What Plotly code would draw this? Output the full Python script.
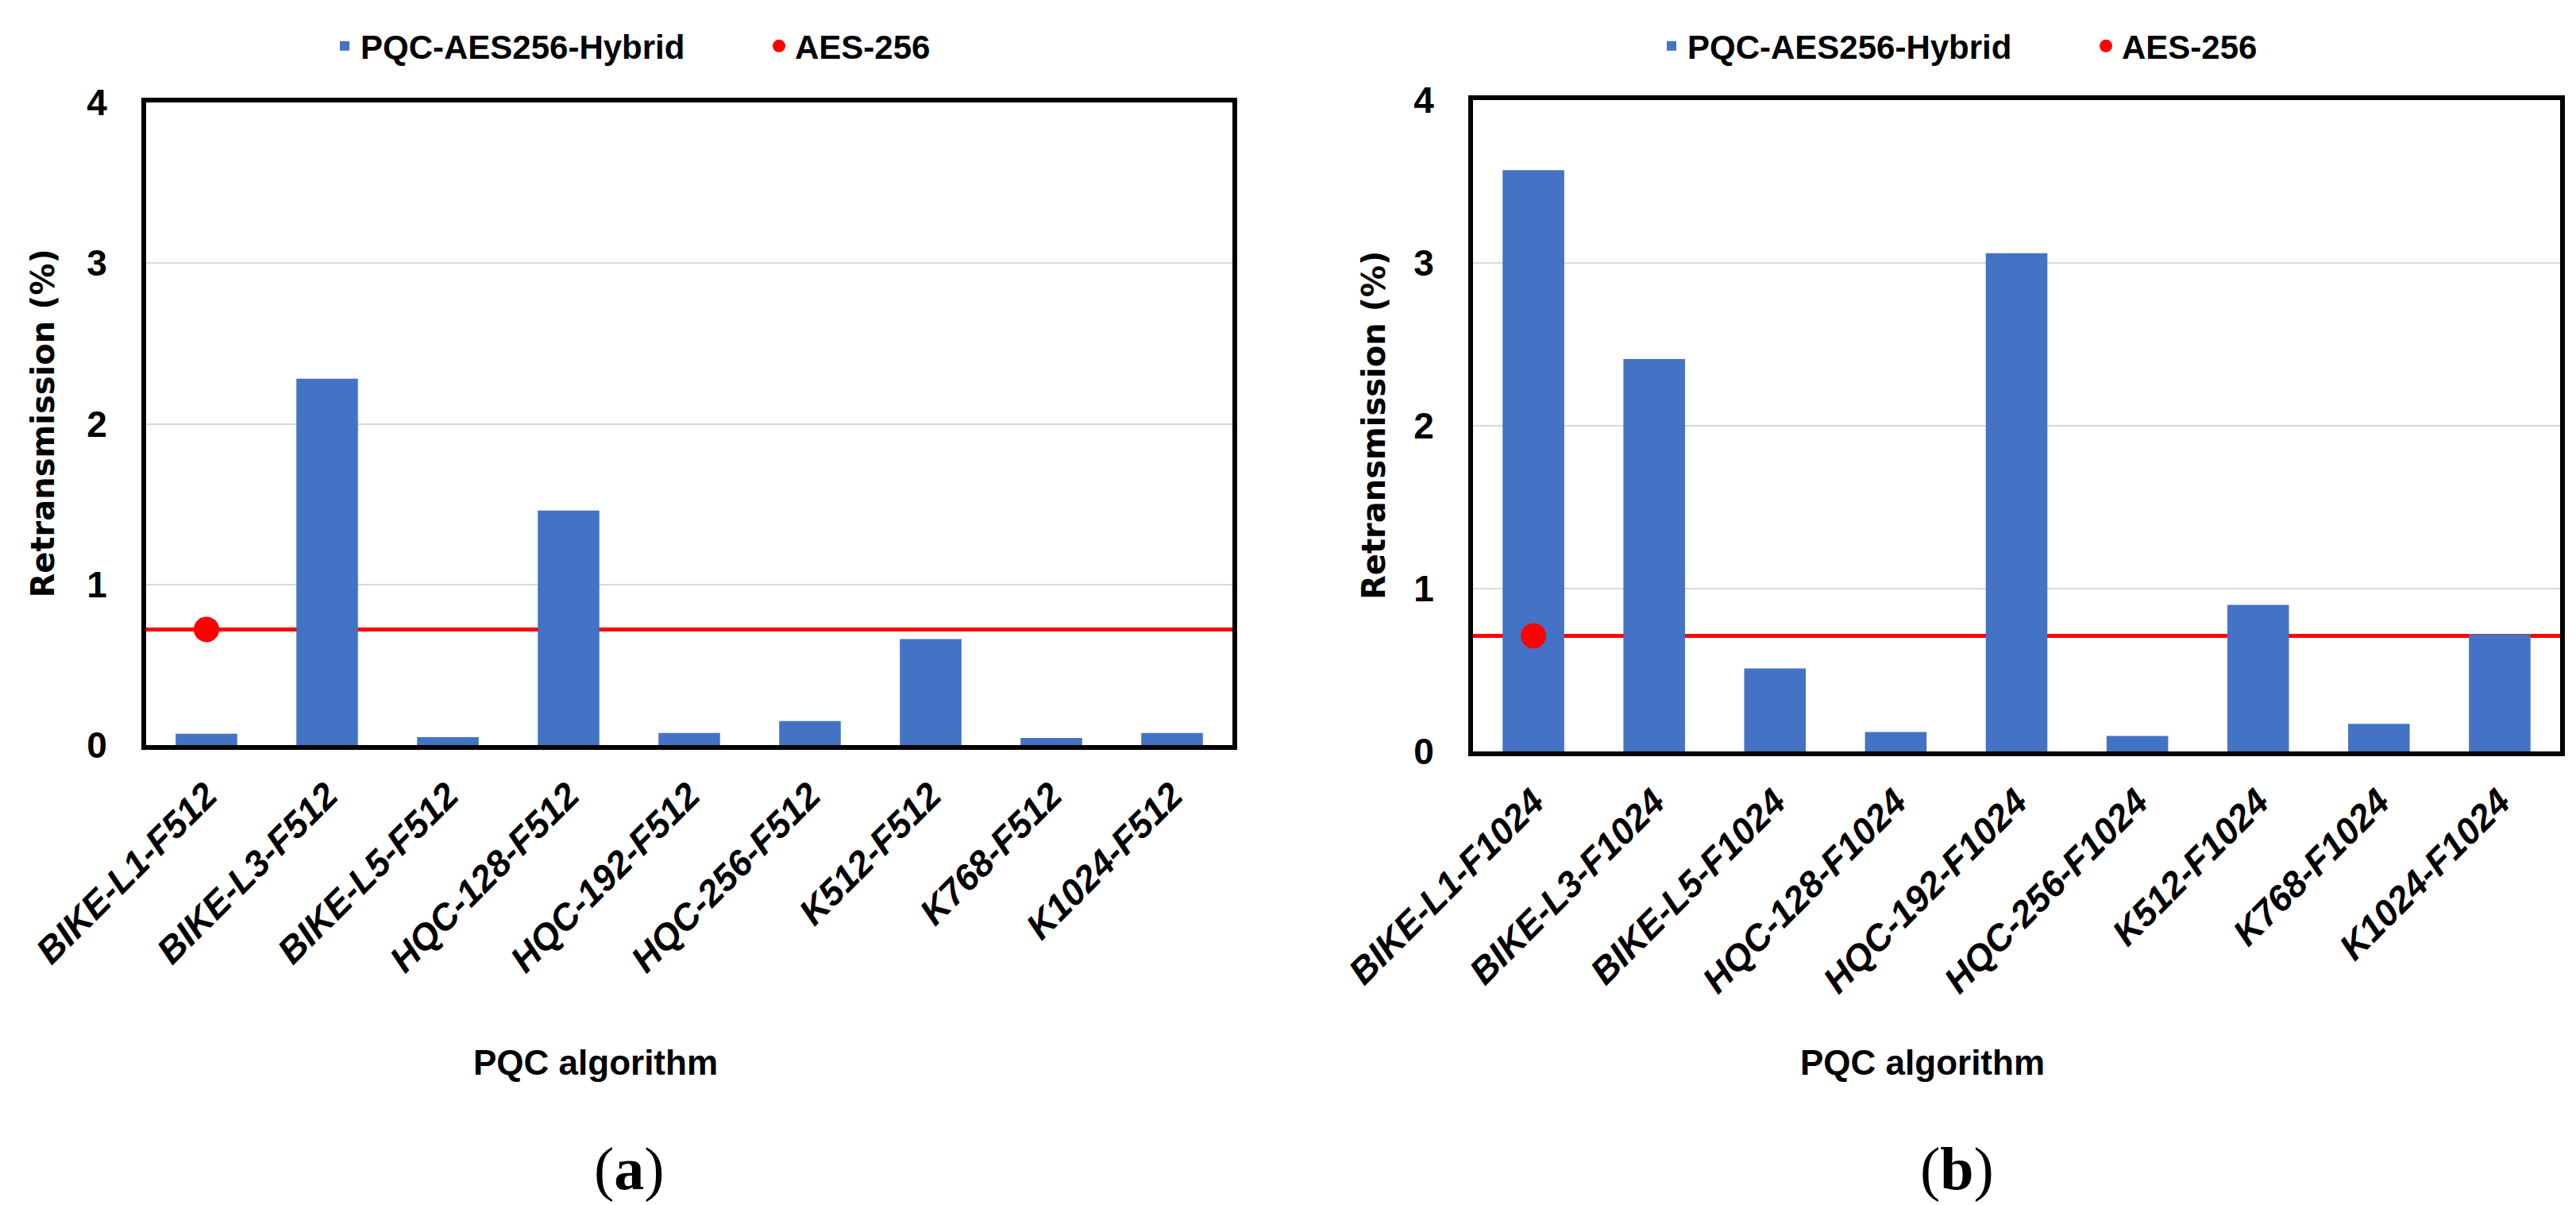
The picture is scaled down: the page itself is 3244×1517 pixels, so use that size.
import plotly.graph_objects as go

# ---------------- data ----------------
cats_a = ["BIKE-L1-F512", "BIKE-L3-F512", "BIKE-L5-F512", "HQC-128-F512", "HQC-192-F512",
          "HQC-256-F512", "K512-F512", "K768-F512", "K1024-F512"]
hybrid_a = [0.07, 2.28, 0.05, 1.46, 0.075, 0.15, 0.66, 0.045, 0.075]
aes_a = 0.72

cats_b = ["BIKE-L1-F1024", "BIKE-L3-F1024", "BIKE-L5-F1024", "HQC-128-F1024", "HQC-192-F1024",
          "HQC-256-F1024", "K512-F1024", "K768-F1024", "K1024-F1024"]
hybrid_b = [3.57, 2.41, 0.51, 0.12, 3.06, 0.095, 0.90, 0.17, 0.72]
aes_b = 0.71

y_ticks = [0, 1, 2, 3, 4]
series_names = ["PQC-AES256-Hybrid", "AES-256"]
x_title = "PQC algorithm"
y_title = "Retransmission (%)"
captions = ["(<b>a</b>)", "(<b>b</b>)"]

# ---------------- style ----------------
W, H = 3244, 1517
BLUE = "#4472C4"
RED = "#FF0000"
SANS = "Liberation Sans, Arial, sans-serif"

def px_x(p):
    return p / W

def px_y(p):
    return 1 - p / H

dom_xa = [px_x(176), px_x(1544)]
dom_xb = [px_x(1847), px_x(3216)]
dom_ya = [px_y(930), px_y(121)]
dom_yb = [px_y(938), px_y(118)]

fig = go.Figure()

panels = [
    (cats_a, hybrid_a, aes_a, "x", "y", "legend"),
    (cats_b, hybrid_b, aes_b, "x2", "y2", "legend2"),
]

for cats, vals, aes, xa, ya, lg in panels:
    fig.add_trace(go.Bar(
        x=cats, y=vals, name=series_names[0], marker=dict(color=BLUE, line=dict(width=0)),
        xaxis=xa, yaxis=ya, legend=lg, showlegend=True,
    ))
    fig.add_trace(go.Scatter(
        x=[cats[0]], y=[aes], name=series_names[1], mode="markers",
        marker=dict(color=RED, size=32, symbol="circle"),
        xaxis=xa, yaxis=ya, legend=lg, showlegend=True,
    ))
    fig.add_shape(
        type="line", xref=f"{xa} domain", yref=ya, x0=0, x1=1, y0=aes, y1=aes,
        line=dict(color=RED, width=5), layer="below",
    )

tick_font_y = dict(family=SANS, size=46, color="black", weight="bold")
tick_font_x = dict(family=SANS, size=46, color="black", weight="bold", style="italic")

def xaxis_cfg(dom, anchor):
    return dict(
        domain=dom, anchor=anchor, type="category", range=[-0.5, 8.5],
        showline=True, linecolor="black", linewidth=6, mirror=True,
        showgrid=False, ticks="", tickangle=-45, tickfont=tick_font_x,
        ticklabelstandoff=12, zeroline=False,
    )

def yaxis_cfg(dom, anchor):
    return dict(
        domain=dom, anchor=anchor, range=[0, 4], tickvals=y_ticks,
        showline=True, linecolor="black", linewidth=6, mirror=True,
        showgrid=True, gridcolor="#D9D9D9", gridwidth=2, zeroline=False,
        ticks="", tickfont=tick_font_y, ticklabelstandoff=34,
    )

legend_common = dict(
    orientation="h", xanchor="left", yanchor="middle", y=px_y(50),
    font=dict(family=SANS, size=42, color="black", weight="bold"),
    bgcolor="rgba(0,0,0,0)", borderwidth=0, entrywidth=502, entrywidthmode="pixels",
)

fig.update_layout(
    width=W, height=H, margin=dict(l=0, r=0, t=0, b=0, autoexpand=False),
    paper_bgcolor="white", plot_bgcolor="white",
    bargap=0.49,
    xaxis=xaxis_cfg(dom_xa, "y"), yaxis=yaxis_cfg(dom_ya, "x"),
    xaxis2=xaxis_cfg(dom_xb, "y2"), yaxis2=yaxis_cfg(dom_yb, "x2"),
    legend=dict(legend_common, x=px_x(406)),
    legend2=dict(legend_common, x=px_x(2077)),
    showlegend=True,
)

annots = []
for xc, dom in [(46, dom_ya), (1722, dom_yb)]:
    annots.append(dict(
        text=f"<b>{y_title}</b>", x=px_x(xc), y=(dom[0] + dom[1]) / 2, xref="paper", yref="paper",
        showarrow=False, textangle=-90, xanchor="center", yanchor="middle",
        font=dict(family="DejaVu Sans, Verdana, sans-serif", size=40, color="black"),
    ))
for xc in [742, 2413]:
    annots.append(dict(
        text=f"<b>{x_title}</b>", x=px_x(xc), y=px_y(1329), xref="paper", yref="paper",
        showarrow=False, xanchor="center", yanchor="middle",
        font=dict(family=SANS, size=44, color="black"),
    ))
for xc, cap in zip([784, 2456], captions):
    annots.append(dict(
        text=cap, x=px_x(xc), y=px_y(1463), xref="paper", yref="paper",
        showarrow=False, xanchor="center", yanchor="middle",
        font=dict(family="Liberation Serif, Times New Roman, serif", size=76, color="black"),
    ))
fig.update_layout(annotations=annots)

fig.write_html("out.html")
